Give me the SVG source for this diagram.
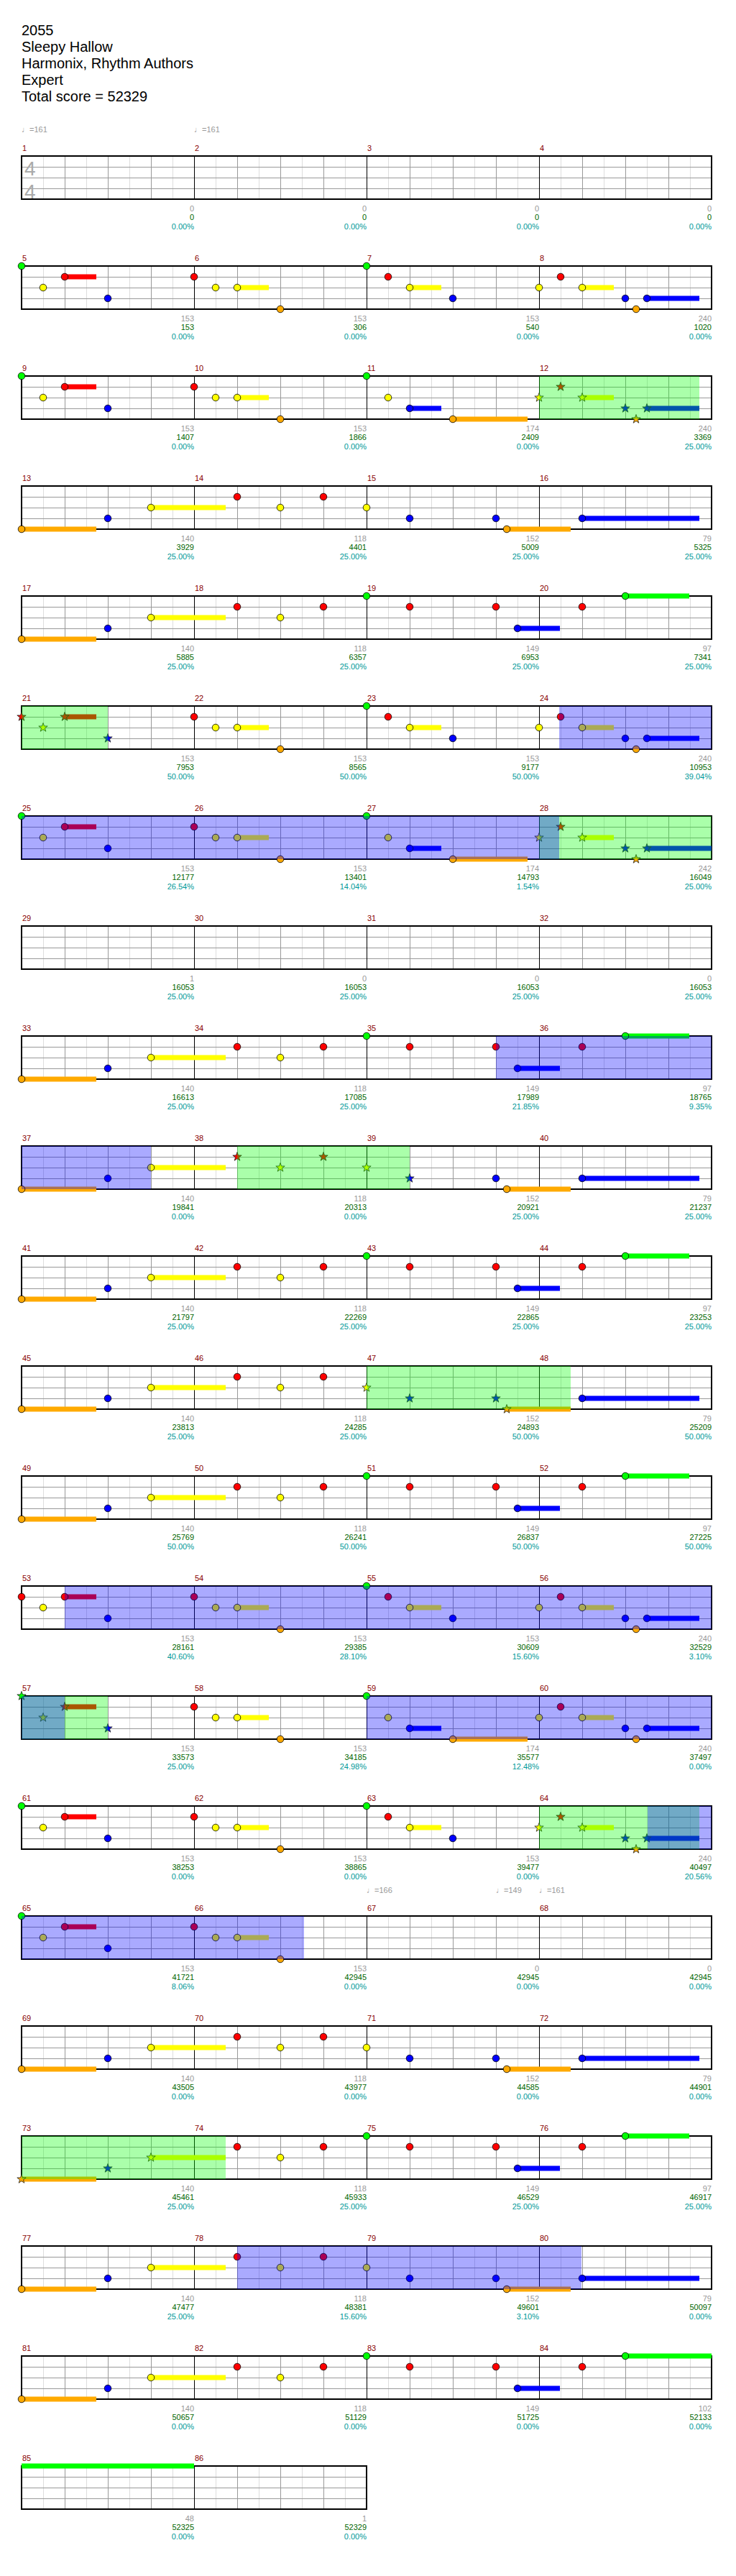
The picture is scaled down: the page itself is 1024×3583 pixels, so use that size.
<svg xmlns="http://www.w3.org/2000/svg" xmlns:xlink="http://www.w3.org/1999/xlink" width="1024" height="3583" viewBox="0 0 1024 3583">
<style>
.R{fill:#ff0000}.Y{fill:#ffff00}.B{fill:#0000ff}.G{fill:#00ff00}.O{fill:#ffaa00}
.sp{fill:#00ff00;fill-opacity:.333}.od{fill:#0000ff;fill-opacity:.333}
.h{font:20px "Liberation Sans",Arial,sans-serif;fill:#000}
.tp{font:11px "Liberation Sans","DejaVu Sans",sans-serif;fill:#999}
.mn{font:11px "Liberation Sans",Arial,sans-serif;fill:#880000}
.g{font:11px "Liberation Sans",Arial,sans-serif;fill:#999;text-anchor:end}
.sc{font:11px "Liberation Sans",Arial,sans-serif;fill:#006600;text-anchor:end}
.pc{font:11px "Liberation Sans",Arial,sans-serif;fill:#009999;text-anchor:end}
.ts{font:28px "Liberation Sans",Arial,sans-serif;fill:#aaaaaa}
</style>
<defs>
<g id="grid4" shape-rendering="crispEdges">
<path d="M60 0V60M120 0V60M180 0V60M240 0V60M300 0V60M360 0V60M420 0V60M480 0V60M540 0V60M600 0V60M660 0V60M720 0V60M780 0V60M840 0V60M900 0V60M960 0V60" stroke="#dddddd" stroke-width="1"/>
<path d="M30 15H990M30 30H990M30 45H990M90 0V60M150 0V60M210 0V60M330 0V60M390 0V60M450 0V60M570 0V60M630 0V60M690 0V60M810 0V60M870 0V60M930 0V60" stroke="#999999" stroke-width="1"/>
<path d="M270 0V60M510 0V60M750 0V60" stroke="#000" stroke-width="1"/>
<rect x="30" y="0" width="960" height="60" fill="none" stroke="#000" stroke-width="1.5"/>
</g>
<g id="grid2" shape-rendering="crispEdges">
<path d="M60 0V60M120 0V60M180 0V60M240 0V60M300 0V60M360 0V60M420 0V60M480 0V60" stroke="#dddddd" stroke-width="1"/>
<path d="M30 15H510M30 30H510M30 45H510M90 0V60M150 0V60M210 0V60M330 0V60M390 0V60M450 0V60" stroke="#999999" stroke-width="1"/>
<path d="M270 0V60" stroke="#000" stroke-width="1"/>
<rect x="30" y="0" width="480" height="60" fill="none" stroke="#000" stroke-width="1.5"/>
</g>
<circle id="n" r="4.8" stroke="#000" stroke-width="0.8"/>
<path id="s" d="M0-6.5L1.53-2.1 6.18-2.01 2.47.8 3.82 5.26 0 2.6-3.82 5.26-2.47.8-6.18-2.01-1.53-2.1Z" stroke="#222" stroke-width="0.8"/>
<g id="pA"><rect class="R" x="90" y="11.5" width="44" height="7"/><use href="#n" class="G" x="30" y="0"/><use href="#n" class="Y" x="60" y="30"/><use href="#n" class="R" x="90" y="15"/><use href="#n" class="B" x="150" y="45"/></g>
<g id="pB"><rect class="Y" x="330" y="26.5" width="44" height="7"/><use href="#n" class="R" x="270" y="15"/><use href="#n" class="Y" x="300" y="30"/><use href="#n" class="Y" x="330" y="30"/><use href="#n" class="O" x="390" y="60"/></g>
<g id="pC"><rect class="Y" x="570" y="26.5" width="44" height="7"/><use href="#n" class="G" x="510" y="0"/><use href="#n" class="R" x="540" y="15"/><use href="#n" class="Y" x="570" y="30"/><use href="#n" class="B" x="630" y="45"/></g>
<g id="pD"><rect class="Y" x="810" y="26.5" width="44" height="7"/><rect class="B" x="900" y="41.5" width="73" height="7"/><use href="#n" class="Y" x="750" y="30"/><use href="#n" class="R" x="780" y="15"/><use href="#n" class="Y" x="810" y="30"/><use href="#n" class="B" x="870" y="45"/><use href="#n" class="B" x="900" y="45"/><use href="#n" class="O" x="885" y="60"/></g>
<g id="pE"><rect class="B" x="570" y="41.5" width="44" height="7"/><rect class="O" x="630" y="56.5" width="104" height="7"/><use href="#n" class="G" x="510" y="0"/><use href="#n" class="Y" x="540" y="30"/><use href="#n" class="B" x="570" y="45"/><use href="#n" class="O" x="630" y="60"/></g>
<g id="pS"><rect class="Y" x="810" y="26.5" width="44" height="7"/><rect class="B" x="900" y="41.5" width="73" height="7"/><use href="#s" class="Y" x="750" y="30"/><use href="#s" class="R" x="780" y="15"/><use href="#s" class="Y" x="810" y="30"/><use href="#s" class="B" x="870" y="45"/><use href="#s" class="B" x="900" y="45"/><use href="#s" class="O" x="885" y="60"/></g>
<g id="fr"><rect class="O" x="30" y="56.5" width="104" height="7"/><rect class="Y" x="210" y="26.5" width="104" height="7"/><use href="#n" class="O" x="30" y="60"/><use href="#n" class="B" x="150" y="45"/><use href="#n" class="Y" x="210" y="30"/></g>
<g id="mid"><use href="#n" class="R" x="330" y="15"/><use href="#n" class="Y" x="390" y="30"/><use href="#n" class="R" x="450" y="15"/></g>
<g id="t4"><rect class="O" x="705" y="56.5" width="89" height="7"/><rect class="B" x="810" y="41.5" width="163" height="7"/><use href="#n" class="Y" x="510" y="30"/><use href="#n" class="B" x="570" y="45"/><use href="#n" class="B" x="690" y="45"/><use href="#n" class="O" x="705" y="60"/><use href="#n" class="B" x="810" y="45"/></g>
<g id="t5"><rect class="B" x="720" y="41.5" width="59" height="7"/><rect class="G" x="870" y="-3.5" width="89" height="7"/><use href="#n" class="G" x="510" y="0"/><use href="#n" class="R" x="570" y="15"/><use href="#n" class="R" x="690" y="15"/><use href="#n" class="B" x="720" y="45"/><use href="#n" class="R" x="810" y="15"/><use href="#n" class="G" x="870" y="0"/></g>
</defs>
<rect width="1024" height="3583" fill="#fff"/>
<g id="header">
<text class="h" x="30" y="49">2055</text>
<text class="h" x="30" y="72">Sleepy Hallow</text>
<text class="h" x="30" y="95">Harmonix, Rhythm Authors</text>
<text class="h" x="30" y="118">Expert</text>
<text class="h" x="30" y="141">Total score = 52329</text>
<text class="tp" x="30" y="184">♩=161</text>
<text class="tp" x="270" y="184">♩=161</text>
</g>

<g id="row1" transform="translate(0,217)">
<use href="#grid4"/>
<text class="ts" x="34" y="27">4</text><text class="ts" x="34" y="59">4</text>
<text class="mn" x="31" y="-7">1</text><text class="mn" x="271" y="-7">2</text><text class="mn" x="511" y="-7">3</text><text class="mn" x="751" y="-7">4</text>
<text class="g" x="270" y="77">0</text><text class="g" x="510" y="77">0</text><text class="g" x="750" y="77">0</text><text class="g" x="990" y="77">0</text>
<text class="sc" x="270" y="89">0</text><text class="sc" x="510" y="89">0</text><text class="sc" x="750" y="89">0</text><text class="sc" x="990" y="89">0</text>
<text class="pc" x="270" y="102">0.00%</text><text class="pc" x="510" y="102">0.00%</text><text class="pc" x="750" y="102">0.00%</text><text class="pc" x="990" y="102">0.00%</text>
</g>

<g id="row2" transform="translate(0,370)">
<use href="#grid4"/>
<use href="#pA"/><use href="#pB"/><use href="#pC"/><use href="#pD"/>
<text class="mn" x="31" y="-7">5</text><text class="mn" x="271" y="-7">6</text><text class="mn" x="511" y="-7">7</text><text class="mn" x="751" y="-7">8</text>
<text class="g" x="270" y="77">153</text><text class="g" x="510" y="77">153</text><text class="g" x="750" y="77">153</text><text class="g" x="990" y="77">240</text>
<text class="sc" x="270" y="89">153</text><text class="sc" x="510" y="89">306</text><text class="sc" x="750" y="89">540</text><text class="sc" x="990" y="89">1020</text>
<text class="pc" x="270" y="102">0.00%</text><text class="pc" x="510" y="102">0.00%</text><text class="pc" x="750" y="102">0.00%</text><text class="pc" x="990" y="102">0.00%</text>
</g>

<g id="row3" transform="translate(0,523)">
<use href="#grid4"/>
<use href="#pA"/><use href="#pB"/><use href="#pE"/><use href="#pS"/>
<rect class="sp" x="750" y="0" width="223" height="60"/>
<text class="mn" x="31" y="-7">9</text><text class="mn" x="271" y="-7">10</text><text class="mn" x="511" y="-7">11</text><text class="mn" x="751" y="-7">12</text>
<text class="g" x="270" y="77">153</text><text class="g" x="510" y="77">153</text><text class="g" x="750" y="77">174</text><text class="g" x="990" y="77">240</text>
<text class="sc" x="270" y="89">1407</text><text class="sc" x="510" y="89">1866</text><text class="sc" x="750" y="89">2409</text><text class="sc" x="990" y="89">3369</text>
<text class="pc" x="270" y="102">0.00%</text><text class="pc" x="510" y="102">0.00%</text><text class="pc" x="750" y="102">0.00%</text><text class="pc" x="990" y="102">25.00%</text>
</g>

<g id="row4" transform="translate(0,676)">
<use href="#grid4"/>
<use href="#fr"/><use href="#mid"/><use href="#t4"/>
<text class="mn" x="31" y="-7">13</text><text class="mn" x="271" y="-7">14</text><text class="mn" x="511" y="-7">15</text><text class="mn" x="751" y="-7">16</text>
<text class="g" x="270" y="77">140</text><text class="g" x="510" y="77">118</text><text class="g" x="750" y="77">152</text><text class="g" x="990" y="77">79</text>
<text class="sc" x="270" y="89">3929</text><text class="sc" x="510" y="89">4401</text><text class="sc" x="750" y="89">5009</text><text class="sc" x="990" y="89">5325</text>
<text class="pc" x="270" y="102">25.00%</text><text class="pc" x="510" y="102">25.00%</text><text class="pc" x="750" y="102">25.00%</text><text class="pc" x="990" y="102">25.00%</text>
</g>

<g id="row5" transform="translate(0,829)">
<use href="#grid4"/>
<use href="#fr"/><use href="#mid"/><use href="#t5"/>
<text class="mn" x="31" y="-7">17</text><text class="mn" x="271" y="-7">18</text><text class="mn" x="511" y="-7">19</text><text class="mn" x="751" y="-7">20</text>
<text class="g" x="270" y="77">140</text><text class="g" x="510" y="77">118</text><text class="g" x="750" y="77">149</text><text class="g" x="990" y="77">97</text>
<text class="sc" x="270" y="89">5885</text><text class="sc" x="510" y="89">6357</text><text class="sc" x="750" y="89">6953</text><text class="sc" x="990" y="89">7341</text>
<text class="pc" x="270" y="102">25.00%</text><text class="pc" x="510" y="102">25.00%</text><text class="pc" x="750" y="102">25.00%</text><text class="pc" x="990" y="102">25.00%</text>
</g>

<g id="row6" transform="translate(0,982)">
<use href="#grid4"/>
<rect class="R" x="90" y="11.5" width="44" height="7"/>
<use href="#s" class="R" x="30" y="15"/><use href="#s" class="Y" x="60" y="30"/><use href="#s" class="R" x="90" y="15"/><use href="#s" class="B" x="150" y="45"/>
<use href="#pB"/><use href="#pC"/><use href="#pD"/>
<rect class="sp" x="30" y="0" width="120" height="60"/>
<rect class="od" x="778" y="0" width="212" height="60"/>
<text class="mn" x="31" y="-7">21</text><text class="mn" x="271" y="-7">22</text><text class="mn" x="511" y="-7">23</text><text class="mn" x="751" y="-7">24</text>
<text class="g" x="270" y="77">153</text><text class="g" x="510" y="77">153</text><text class="g" x="750" y="77">153</text><text class="g" x="990" y="77">240</text>
<text class="sc" x="270" y="89">7953</text><text class="sc" x="510" y="89">8565</text><text class="sc" x="750" y="89">9177</text><text class="sc" x="990" y="89">10953</text>
<text class="pc" x="270" y="102">50.00%</text><text class="pc" x="510" y="102">50.00%</text><text class="pc" x="750" y="102">50.00%</text><text class="pc" x="990" y="102">39.04%</text>
</g>

<g id="row7" transform="translate(0,1135)">
<use href="#grid4"/>
<use href="#pA"/><use href="#pB"/><use href="#pE"/>
<rect class="Y" x="810" y="26.5" width="44" height="7"/><rect class="B" x="900" y="41.5" width="90" height="7"/>
<use href="#s" class="Y" x="750" y="30"/><use href="#s" class="R" x="780" y="15"/><use href="#s" class="Y" x="810" y="30"/><use href="#s" class="B" x="870" y="45"/><use href="#s" class="B" x="900" y="45"/><use href="#s" class="O" x="885" y="60"/>
<rect class="sp" x="750" y="0" width="240" height="60"/>
<rect class="od" x="30" y="0" width="748" height="60"/>
<text class="mn" x="31" y="-7">25</text><text class="mn" x="271" y="-7">26</text><text class="mn" x="511" y="-7">27</text><text class="mn" x="751" y="-7">28</text>
<text class="g" x="270" y="77">153</text><text class="g" x="510" y="77">153</text><text class="g" x="750" y="77">174</text><text class="g" x="990" y="77">242</text>
<text class="sc" x="270" y="89">12177</text><text class="sc" x="510" y="89">13401</text><text class="sc" x="750" y="89">14793</text><text class="sc" x="990" y="89">16049</text>
<text class="pc" x="270" y="102">26.54%</text><text class="pc" x="510" y="102">14.04%</text><text class="pc" x="750" y="102">1.54%</text><text class="pc" x="990" y="102">25.00%</text>
</g>

<g id="row8" transform="translate(0,1288)">
<use href="#grid4"/>
<text class="mn" x="31" y="-7">29</text><text class="mn" x="271" y="-7">30</text><text class="mn" x="511" y="-7">31</text><text class="mn" x="751" y="-7">32</text>
<text class="g" x="270" y="77">1</text><text class="g" x="510" y="77">0</text><text class="g" x="750" y="77">0</text><text class="g" x="990" y="77">0</text>
<text class="sc" x="270" y="89">16053</text><text class="sc" x="510" y="89">16053</text><text class="sc" x="750" y="89">16053</text><text class="sc" x="990" y="89">16053</text>
<text class="pc" x="270" y="102">25.00%</text><text class="pc" x="510" y="102">25.00%</text><text class="pc" x="750" y="102">25.00%</text><text class="pc" x="990" y="102">25.00%</text>
</g>

<g id="row9" transform="translate(0,1441)">
<use href="#grid4"/>
<use href="#fr"/><use href="#mid"/><use href="#t5"/>
<rect class="od" x="690" y="0" width="300" height="60"/>
<text class="mn" x="31" y="-7">33</text><text class="mn" x="271" y="-7">34</text><text class="mn" x="511" y="-7">35</text><text class="mn" x="751" y="-7">36</text>
<text class="g" x="270" y="77">140</text><text class="g" x="510" y="77">118</text><text class="g" x="750" y="77">149</text><text class="g" x="990" y="77">97</text>
<text class="sc" x="270" y="89">16613</text><text class="sc" x="510" y="89">17085</text><text class="sc" x="750" y="89">17989</text><text class="sc" x="990" y="89">18765</text>
<text class="pc" x="270" y="102">25.00%</text><text class="pc" x="510" y="102">25.00%</text><text class="pc" x="750" y="102">21.85%</text><text class="pc" x="990" y="102">9.35%</text>
</g>

<g id="row10" transform="translate(0,1594)">
<use href="#grid4"/>
<use href="#fr"/>
<rect class="O" x="705" y="56.5" width="89" height="7"/><rect class="B" x="810" y="41.5" width="163" height="7"/>
<use href="#s" class="R" x="330" y="15"/><use href="#s" class="Y" x="390" y="30"/><use href="#s" class="R" x="450" y="15"/><use href="#s" class="Y" x="510" y="30"/><use href="#s" class="B" x="570" y="45"/>
<use href="#n" class="B" x="690" y="45"/><use href="#n" class="O" x="705" y="60"/><use href="#n" class="B" x="810" y="45"/>
<rect class="od" x="30" y="0" width="180" height="60"/>
<rect class="sp" x="330" y="0" width="240" height="60"/>
<text class="mn" x="31" y="-7">37</text><text class="mn" x="271" y="-7">38</text><text class="mn" x="511" y="-7">39</text><text class="mn" x="751" y="-7">40</text>
<text class="g" x="270" y="77">140</text><text class="g" x="510" y="77">118</text><text class="g" x="750" y="77">152</text><text class="g" x="990" y="77">79</text>
<text class="sc" x="270" y="89">19841</text><text class="sc" x="510" y="89">20313</text><text class="sc" x="750" y="89">20921</text><text class="sc" x="990" y="89">21237</text>
<text class="pc" x="270" y="102">0.00%</text><text class="pc" x="510" y="102">0.00%</text><text class="pc" x="750" y="102">25.00%</text><text class="pc" x="990" y="102">25.00%</text>
</g>

<g id="row11" transform="translate(0,1747)">
<use href="#grid4"/>
<use href="#fr"/><use href="#mid"/><use href="#t5"/>
<text class="mn" x="31" y="-7">41</text><text class="mn" x="271" y="-7">42</text><text class="mn" x="511" y="-7">43</text><text class="mn" x="751" y="-7">44</text>
<text class="g" x="270" y="77">140</text><text class="g" x="510" y="77">118</text><text class="g" x="750" y="77">149</text><text class="g" x="990" y="77">97</text>
<text class="sc" x="270" y="89">21797</text><text class="sc" x="510" y="89">22269</text><text class="sc" x="750" y="89">22865</text><text class="sc" x="990" y="89">23253</text>
<text class="pc" x="270" y="102">25.00%</text><text class="pc" x="510" y="102">25.00%</text><text class="pc" x="750" y="102">25.00%</text><text class="pc" x="990" y="102">25.00%</text>
</g>

<g id="row12" transform="translate(0,1900)">
<use href="#grid4"/>
<use href="#fr"/><use href="#mid"/>
<rect class="O" x="705" y="56.5" width="89" height="7"/><rect class="B" x="810" y="41.5" width="163" height="7"/>
<use href="#s" class="Y" x="510" y="30"/><use href="#s" class="B" x="570" y="45"/><use href="#s" class="B" x="690" y="45"/><use href="#s" class="O" x="705" y="60"/>
<use href="#n" class="B" x="810" y="45"/>
<rect class="sp" x="510" y="0" width="284" height="60"/>
<text class="mn" x="31" y="-7">45</text><text class="mn" x="271" y="-7">46</text><text class="mn" x="511" y="-7">47</text><text class="mn" x="751" y="-7">48</text>
<text class="g" x="270" y="77">140</text><text class="g" x="510" y="77">118</text><text class="g" x="750" y="77">152</text><text class="g" x="990" y="77">79</text>
<text class="sc" x="270" y="89">23813</text><text class="sc" x="510" y="89">24285</text><text class="sc" x="750" y="89">24893</text><text class="sc" x="990" y="89">25209</text>
<text class="pc" x="270" y="102">25.00%</text><text class="pc" x="510" y="102">25.00%</text><text class="pc" x="750" y="102">50.00%</text><text class="pc" x="990" y="102">50.00%</text>
</g>

<g id="row13" transform="translate(0,2053)">
<use href="#grid4"/>
<use href="#fr"/><use href="#mid"/><use href="#t5"/>
<text class="mn" x="31" y="-7">49</text><text class="mn" x="271" y="-7">50</text><text class="mn" x="511" y="-7">51</text><text class="mn" x="751" y="-7">52</text>
<text class="g" x="270" y="77">140</text><text class="g" x="510" y="77">118</text><text class="g" x="750" y="77">149</text><text class="g" x="990" y="77">97</text>
<text class="sc" x="270" y="89">25769</text><text class="sc" x="510" y="89">26241</text><text class="sc" x="750" y="89">26837</text><text class="sc" x="990" y="89">27225</text>
<text class="pc" x="270" y="102">50.00%</text><text class="pc" x="510" y="102">50.00%</text><text class="pc" x="750" y="102">50.00%</text><text class="pc" x="990" y="102">50.00%</text>
</g>

<g id="row14" transform="translate(0,2206)">
<use href="#grid4"/>
<rect class="R" x="90" y="11.5" width="44" height="7"/>
<use href="#n" class="R" x="30" y="15"/><use href="#n" class="Y" x="60" y="30"/><use href="#n" class="R" x="90" y="15"/><use href="#n" class="B" x="150" y="45"/>
<use href="#pB"/><use href="#pC"/><use href="#pD"/>
<rect class="od" x="90" y="0" width="900" height="60"/>
<text class="mn" x="31" y="-7">53</text><text class="mn" x="271" y="-7">54</text><text class="mn" x="511" y="-7">55</text><text class="mn" x="751" y="-7">56</text>
<text class="g" x="270" y="77">153</text><text class="g" x="510" y="77">153</text><text class="g" x="750" y="77">153</text><text class="g" x="990" y="77">240</text>
<text class="sc" x="270" y="89">28161</text><text class="sc" x="510" y="89">29385</text><text class="sc" x="750" y="89">30609</text><text class="sc" x="990" y="89">32529</text>
<text class="pc" x="270" y="102">40.60%</text><text class="pc" x="510" y="102">28.10%</text><text class="pc" x="750" y="102">15.60%</text><text class="pc" x="990" y="102">3.10%</text>
</g>

<g id="row15" transform="translate(0,2359)">
<use href="#grid4"/>
<rect class="R" x="90" y="11.5" width="44" height="7"/>
<use href="#s" class="G" x="30" y="0"/><use href="#s" class="Y" x="60" y="30"/><use href="#s" class="R" x="90" y="15"/><use href="#s" class="B" x="150" y="45"/>
<use href="#pB"/><use href="#pE"/><use href="#pD"/>
<rect class="sp" x="30" y="0" width="120" height="60"/>
<rect class="od" x="30" y="0" width="60" height="60"/>
<rect class="od" x="510" y="0" width="480" height="60"/>
<text class="mn" x="31" y="-7">57</text><text class="mn" x="271" y="-7">58</text><text class="mn" x="511" y="-7">59</text><text class="mn" x="751" y="-7">60</text>
<text class="g" x="270" y="77">153</text><text class="g" x="510" y="77">153</text><text class="g" x="750" y="77">174</text><text class="g" x="990" y="77">240</text>
<text class="sc" x="270" y="89">33573</text><text class="sc" x="510" y="89">34185</text><text class="sc" x="750" y="89">35577</text><text class="sc" x="990" y="89">37497</text>
<text class="pc" x="270" y="102">25.00%</text><text class="pc" x="510" y="102">24.98%</text><text class="pc" x="750" y="102">12.48%</text><text class="pc" x="990" y="102">0.00%</text>
</g>

<g id="row16" transform="translate(0,2512)">
<use href="#grid4"/>
<use href="#pA"/><use href="#pB"/><use href="#pC"/><use href="#pS"/>
<rect class="sp" x="750" y="0" width="223" height="60"/>
<rect class="od" x="901" y="0" width="89" height="60"/>
<text class="mn" x="31" y="-7">61</text><text class="mn" x="271" y="-7">62</text><text class="mn" x="511" y="-7">63</text><text class="mn" x="751" y="-7">64</text>
<text class="g" x="270" y="77">153</text><text class="g" x="510" y="77">153</text><text class="g" x="750" y="77">153</text><text class="g" x="990" y="77">240</text>
<text class="sc" x="270" y="89">38253</text><text class="sc" x="510" y="89">38865</text><text class="sc" x="750" y="89">39477</text><text class="sc" x="990" y="89">40497</text>
<text class="pc" x="270" y="102">0.00%</text><text class="pc" x="510" y="102">0.00%</text><text class="pc" x="750" y="102">0.00%</text><text class="pc" x="990" y="102">20.56%</text>
</g>

<g id="row17" transform="translate(0,2665)">
<text class="tp" x="510" y="-32">♩=166</text><text class="tp" x="690" y="-32">♩=149</text><text class="tp" x="750" y="-32">♩=161</text>
<use href="#grid4"/>
<use href="#pA"/><use href="#pB"/>
<rect class="od" x="30" y="0" width="393" height="60"/>
<text class="mn" x="31" y="-7">65</text><text class="mn" x="271" y="-7">66</text><text class="mn" x="511" y="-7">67</text><text class="mn" x="751" y="-7">68</text>
<text class="g" x="270" y="77">153</text><text class="g" x="510" y="77">153</text><text class="g" x="750" y="77">0</text><text class="g" x="990" y="77">0</text>
<text class="sc" x="270" y="89">41721</text><text class="sc" x="510" y="89">42945</text><text class="sc" x="750" y="89">42945</text><text class="sc" x="990" y="89">42945</text>
<text class="pc" x="270" y="102">8.06%</text><text class="pc" x="510" y="102">0.00%</text><text class="pc" x="750" y="102">0.00%</text><text class="pc" x="990" y="102">0.00%</text>
</g>

<g id="row18" transform="translate(0,2818)">
<use href="#grid4"/>
<use href="#fr"/><use href="#mid"/><use href="#t4"/>
<text class="mn" x="31" y="-7">69</text><text class="mn" x="271" y="-7">70</text><text class="mn" x="511" y="-7">71</text><text class="mn" x="751" y="-7">72</text>
<text class="g" x="270" y="77">140</text><text class="g" x="510" y="77">118</text><text class="g" x="750" y="77">152</text><text class="g" x="990" y="77">79</text>
<text class="sc" x="270" y="89">43505</text><text class="sc" x="510" y="89">43977</text><text class="sc" x="750" y="89">44585</text><text class="sc" x="990" y="89">44901</text>
<text class="pc" x="270" y="102">0.00%</text><text class="pc" x="510" y="102">0.00%</text><text class="pc" x="750" y="102">0.00%</text><text class="pc" x="990" y="102">0.00%</text>
</g>

<g id="row19" transform="translate(0,2971)">
<use href="#grid4"/>
<rect class="O" x="30" y="56.5" width="104" height="7"/><rect class="Y" x="210" y="26.5" width="104" height="7"/>
<use href="#s" class="O" x="30" y="60"/><use href="#s" class="B" x="150" y="45"/><use href="#s" class="Y" x="210" y="30"/>
<use href="#mid"/><use href="#t5"/>
<rect class="sp" x="30" y="0" width="284" height="60"/>
<text class="mn" x="31" y="-7">73</text><text class="mn" x="271" y="-7">74</text><text class="mn" x="511" y="-7">75</text><text class="mn" x="751" y="-7">76</text>
<text class="g" x="270" y="77">140</text><text class="g" x="510" y="77">118</text><text class="g" x="750" y="77">149</text><text class="g" x="990" y="77">97</text>
<text class="sc" x="270" y="89">45461</text><text class="sc" x="510" y="89">45933</text><text class="sc" x="750" y="89">46529</text><text class="sc" x="990" y="89">46917</text>
<text class="pc" x="270" y="102">25.00%</text><text class="pc" x="510" y="102">25.00%</text><text class="pc" x="750" y="102">25.00%</text><text class="pc" x="990" y="102">25.00%</text>
</g>

<g id="row20" transform="translate(0,3124)">
<use href="#grid4"/>
<use href="#fr"/><use href="#mid"/><use href="#t4"/>
<rect class="od" x="330" y="0" width="479" height="60"/>
<text class="mn" x="31" y="-7">77</text><text class="mn" x="271" y="-7">78</text><text class="mn" x="511" y="-7">79</text><text class="mn" x="751" y="-7">80</text>
<text class="g" x="270" y="77">140</text><text class="g" x="510" y="77">118</text><text class="g" x="750" y="77">152</text><text class="g" x="990" y="77">79</text>
<text class="sc" x="270" y="89">47477</text><text class="sc" x="510" y="89">48381</text><text class="sc" x="750" y="89">49601</text><text class="sc" x="990" y="89">50097</text>
<text class="pc" x="270" y="102">25.00%</text><text class="pc" x="510" y="102">15.60%</text><text class="pc" x="750" y="102">3.10%</text><text class="pc" x="990" y="102">0.00%</text>
</g>

<g id="row21" transform="translate(0,3277)">
<use href="#grid4"/>
<use href="#fr"/><use href="#mid"/><use href="#t5"/>
<rect class="G" x="959" y="-3.5" width="31" height="7"/>
<text class="mn" x="31" y="-7">81</text><text class="mn" x="271" y="-7">82</text><text class="mn" x="511" y="-7">83</text><text class="mn" x="751" y="-7">84</text>
<text class="g" x="270" y="77">140</text><text class="g" x="510" y="77">118</text><text class="g" x="750" y="77">149</text><text class="g" x="990" y="77">102</text>
<text class="sc" x="270" y="89">50657</text><text class="sc" x="510" y="89">51129</text><text class="sc" x="750" y="89">51725</text><text class="sc" x="990" y="89">52133</text>
<text class="pc" x="270" y="102">0.00%</text><text class="pc" x="510" y="102">0.00%</text><text class="pc" x="750" y="102">0.00%</text><text class="pc" x="990" y="102">0.00%</text>
</g>

<g id="row22" transform="translate(0,3430)">
<use href="#grid2"/>
<rect class="G" x="30" y="-3.5" width="240" height="7"/>
<text class="mn" x="31" y="-7">85</text><text class="mn" x="271" y="-7">86</text>
<text class="g" x="270" y="77">48</text><text class="g" x="510" y="77">1</text>
<text class="sc" x="270" y="89">52325</text><text class="sc" x="510" y="89">52329</text>
<text class="pc" x="270" y="102">0.00%</text><text class="pc" x="510" y="102">0.00%</text>
</g>
<g id="connectors"/>
</svg>
